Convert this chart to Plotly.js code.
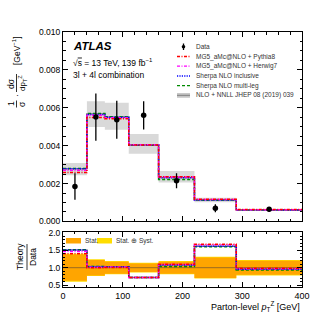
<!DOCTYPE html>
<html><head><meta charset="utf-8">
<script src="https://cdn.plot.ly/plotly-3.0.1.min.js"></script>
<style>html,body{margin:0;padding:0;background:#fff}#c{width:319px;height:319px}</style>
</head><body><div id="c"></div>
<script>
// bin edges and centers (Parton-level pT^Z [GeV])
const binEdges = [0, 40, 70, 110, 160, 220, 290, 400];
const binCenters = [20, 55, 90, 135, 190, 255, 345];
// data (normalised differential cross-section)
const dataVals = [0.00185, 0.00551, 0.00537, 0.00560, 0.00215, 0.00070, 0.00064];
const dataErr  = [0.00070, 0.00125, 0.00100, 0.00075, 0.00040, 0.00021, 0.00013];
// relative stat and stat+syst uncertainty for ratio panel
const statRel = [0.37, 0.22, 0.17, 0.12, 0.17, 0.29, 0.20];
const totRel  = [0.40, 0.24, 0.19, 0.14, 0.19, 0.31, 0.22];
// predictions
const mgPythia = [0.00258, 0.00549, 0.00542, 0.00403, 0.00236, 0.00117, 0.00063];
const mgHerwig = [0.00270, 0.00560, 0.00548, 0.00405, 0.00235, 0.00116, 0.00062];
const sherpaIncl = [0.00278, 0.00565, 0.00550, 0.00403, 0.00231, 0.00113, 0.00061];
const sherpaML = [0.00280, 0.00570, 0.00553, 0.00402, 0.00222, 0.00112, 0.00060];
const nnll = [0.00278, 0.00568, 0.00552, 0.00403, 0.00232, 0.00113, 0.00061];
const nnllLo = [0.00244, 0.00498, 0.00484, 0.00357, 0.00205, 0.00101, 0.00055];
const nnllHi = [0.00308, 0.00634, 0.00627, 0.00461, 0.00267, 0.00125, 0.00066];
const xTicks = [0, 100, 200, 300, 400];

const F = "Liberation Sans, Arial, sans-serif";
const step = v => v.concat([v[v.length-1]]);
const ratio = v => v.map((a,i)=>a/dataVals[i]);

const DASHDOT = '3px,1.5px,1px,1.5px', DOT = '1.2px,1.2px', DASH = '3px,2px';
const models = [
  {name:'NLO + NNLL', y:nnll, color:'#8c8c8c', dash:'solid', w:1.5},
  {name:'Sherpa NLO multi-leg', y:sherpaML, color:'#008a00', dash:DASH, w:1.5},
  {name:'Sherpa NLO inclusive', y:sherpaIncl, color:'#0000ff', dash:DOT, w:1.5},
  {name:'MG5 Herwig7', y:mgHerwig, color:'#ff00ff', dash:DASHDOT, w:1.5},
  {name:'MG5 Pythia8', y:mgPythia, color:'#ff0000', dash:DASHDOT, w:1.5},
];

const traces = [];
// main gray band
traces.push({x:binEdges, y:step(nnllLo), mode:'lines', line:{shape:'hv', width:0, color:'rgba(0,0,0,0)'}, xaxis:'x', yaxis:'y', showlegend:false, hoverinfo:'skip'});
traces.push({x:binEdges, y:step(nnllHi), mode:'lines', line:{shape:'hv', width:0, color:'rgba(0,0,0,0)'}, fill:'tonexty', fillcolor:'#d9d9d9', xaxis:'x', yaxis:'y', showlegend:false, hoverinfo:'skip'});
// ratio bands
const yelLo = totRel.map(r=>1-r), yelHi = totRel.map(r=>1+r);
const orLo = statRel.map(r=>1-r), orHi = statRel.map(r=>1+r);
traces.push({x:binEdges, y:step(yelLo), mode:'lines', line:{shape:'hv', width:0, color:'rgba(0,0,0,0)'}, xaxis:'x2', yaxis:'y2', showlegend:false});
traces.push({x:binEdges, y:step(yelHi), mode:'lines', line:{shape:'hv', width:0, color:'rgba(0,0,0,0)'}, fill:'tonexty', fillcolor:'#ffdd00', xaxis:'x2', yaxis:'y2', showlegend:false});
traces.push({x:binEdges, y:step(orLo), mode:'lines', line:{shape:'hv', width:0, color:'rgba(0,0,0,0)'}, xaxis:'x2', yaxis:'y2', showlegend:false});
traces.push({x:binEdges, y:step(orHi), mode:'lines', line:{shape:'hv', width:0, color:'rgba(0,0,0,0)'}, fill:'tonexty', fillcolor:'#ffa500', xaxis:'x2', yaxis:'y2', showlegend:false});
traces.push({x:[0,400], y:[1,1], mode:'lines', line:{color:'#9a6a20', width:1}, xaxis:'x2', yaxis:'y2', showlegend:false});
models.forEach(m=>{
  traces.push({x:binEdges, y:step(m.y), mode:'lines', line:{shape:'hv', color:m.color, dash:m.dash, width:m.w}, xaxis:'x', yaxis:'y', showlegend:false});
  traces.push({x:binEdges, y:step(ratio(m.y)), mode:'lines', line:{shape:'hv', color:m.color, dash:m.dash, width:m.w}, xaxis:'x2', yaxis:'y2', showlegend:false});
});
traces.push({x:binCenters, y:dataVals, mode:'markers', marker:{color:'black', size:5.5},
  error_y:{type:'data', array:dataErr, color:'black', thickness:1.3, width:0}, xaxis:'x', yaxis:'y', showlegend:false});

// pixel helpers
const px = x => (x-63)/239, py = y => (287-y)/255;
const ann = [];
const A = (x,y,t,o) => ann.push(Object.assign({xref:'paper', yref:'paper', x:px(x), y:py(y), text:t, showarrow:false, font:{family:F, size:8.5, color:'black'}, xanchor:'left', yanchor:'middle'}, o||{}));
A(71, 46, '<b><i>ATLAS</i></b>', {font:{family:F, size:11.5, color:'black'}});
A(71, 62, '√<span style="text-decoration:overline">s</span> = 13 TeV, 139 fb<sup>−1</sup>');
A(71, 75.5, '3l + 4l combination');
// legend
const legTxt = ['Data','MG5_aMc@NLO + Pythia8','MG5_aMc@NLO + Herwig7','Sherpa NLO inclusive','Sherpa NLO multi-leg','NLO + NNLL JHEP 08 (2019) 039'];
const legY = [46.7, 56.5, 66.2, 76, 85.7, 95.4];
legTxt.forEach((t,i)=>A(194, legY[i], t, {font:{family:F, size:6.5, color:'#333'}}));
const shapes = [];
const L = (x0,y0,x1,y1,c,w,d) => shapes.push({type:'line', xref:'paper', yref:'paper', x0:px(x0), y0:py(y0), x1:px(x1), y1:py(y1), line:{color:c, width:w, dash:d||'solid'}});
const R = (x0,y0,x1,y1,c) => shapes.push({type:'rect', xref:'paper', yref:'paper', x0:px(x0), y0:py(y0), x1:px(x1), y1:py(y1), fillcolor:c, line:{width:0}});
L(183.5, 43.5, 183.5, 50, 'black', 1.3);
shapes.push({type:'circle', xref:'paper', yref:'paper', x0:px(181.7), y0:py(45), x1:px(185.3), y1:py(48.6), fillcolor:'black', line:{width:0}});
L(177, 56.5, 190, 56.5, '#ff0000', 1.3, DASHDOT);
L(177, 66.2, 190, 66.2, '#ff00ff', 1.3, DASHDOT);
L(177, 76, 190, 76, '#0000ff', 1.3, DOT);
L(177, 85.7, 190, 85.7, '#008a00', 1.3, DASH);
R(177, 93, 190, 97.8, '#c8c8c8');
L(177, 95.4, 190, 95.4, '#8c8c8c', 1.3);
// ratio legend
R(66, 238, 81, 243.5, '#ffa500');
A(83, 240.8, 'Stat.', {font:{family:F, size:6.5, color:'#333'}});
R(97, 238, 112, 243.5, '#ffdd00');
A(114, 240.8, 'Stat. ⊕ Syst.', {font:{family:F, size:6.5, color:'#333'}});
// y title main (fraction)
const rot = {textangle:-90, xanchor:'center', yanchor:'middle'};
A(11, 104, '1', Object.assign({}, rot));
A(22, 104, 'σ', Object.assign({}, rot));
L(16.5, 100.5, 16.5, 107.5, 'black', 0.8);
A(16.5, 95.5, '·', Object.assign({}, rot));
A(11, 84, 'dσ', Object.assign({}, rot));
A(23, 83, 'dp<sub>T</sub><sup>Z</sup>', Object.assign({}, rot, {font:{family:F, size:8, color:'black'}}));
L(16.5, 74, 16.5, 92, 'black', 0.8);
A(17, 51, '[GeV<sup>−1</sup>]', Object.assign({}, rot));
// ratio y title
A(20, 257, 'Theory', Object.assign({}, rot));
A(33, 257, 'Data', Object.assign({}, rot));
L(27, 244, 27, 270, 'black', 0.8);
// x title
A(302, 306, 'Parton-level <i>p</i><sub>T</sub><sup>Z</sup> [GeV]', {xanchor:'right', font:{family:F, size:9, color:'black'}});

const axBase = {showline:true, linecolor:'black', linewidth:1, mirror:'allticks', ticks:'inside', showgrid:false, zeroline:false, tickcolor:'black', tickfont:{family:F, size:8.5, color:'black'}};
const layout = {
  width:319, height:319, margin:{l:63, r:17, t:32, b:32}, paper_bgcolor:'white', plot_bgcolor:'white', showlegend:false,
  xaxis: Object.assign({}, axBase, {domain:[0,1], anchor:'y', range:[0,400], tickvals:xTicks, showticklabels:false, ticklen:5, minor:{dtick:20, ticks:'inside', ticklen:2.5, tickcolor:'black'}}),
  yaxis: Object.assign({}, axBase, {domain:[0.257,1], anchor:'x', range:[0,0.01], dtick:0.002, tickformat:'.3f', ticklen:5, minor:{dtick:0.0005, ticks:'inside', ticklen:2.5, tickcolor:'black'}}),
  xaxis2: Object.assign({}, axBase, {domain:[0,1], anchor:'y2', matches:'x', range:[0,400], tickvals:xTicks, ticklen:5, tickfont:{family:F, size:9, color:'black'}, minor:{dtick:20, ticks:'inside', ticklen:2.5, tickcolor:'black'}}),
  yaxis2: Object.assign({}, axBase, {domain:[0,0.216], anchor:'x2', range:[0.45,2.02], tickvals:[0.5,1,1.5,2], tickformat:'.1f', ticklen:5, minor:{dtick:0.1, ticks:'inside', ticklen:2, tickcolor:'black'}}),
  annotations: ann, shapes: shapes
};
Plotly.newPlot('c', traces, layout, {staticPlot:true, displayModeBar:false});
</script></body></html>
